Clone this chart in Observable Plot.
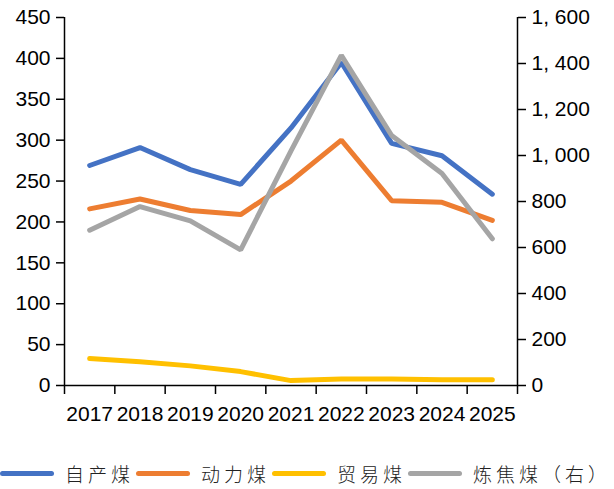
<!DOCTYPE html>
<html>
<head>
<meta charset="utf-8">
<script src="https://cdn.jsdelivr.net/npm/d3@7"></script>
<script src="https://cdn.jsdelivr.net/npm/@observablehq/plot@0.6"></script>
<style>
  html, body { margin: 0; padding: 0; background: #fff; }
  #chart svg { display: block; }
  .legend { display: flex; align-items: center; height: 30px; margin-top: 13px;
    font-family: "Noto Sans CJK SC", sans-serif; font-weight: 300; font-size: 19px; color: #222; white-space: nowrap; }
  .legend .sw { display: inline-block; width: 54px; height: 5px; border-radius: 3px; margin-right: 11px; }
  .legend .lab { letter-spacing: 4px; margin-right: 2px; }
</style>
</head>
<body>
<div id="chart"></div>
<script>
const years = [2017, 2018, 2019, 2020, 2021, 2022, 2023, 2024, 2025];
const ziChan = [269, 291, 264, 246, 315, 395, 296, 281, 234];     // 自产煤 (left)
const dongLi = [216, 228, 214, 209, 250, 300, 226, 224, 202];     // 动力煤 (left)
const maoYi  = [33, 29, 24, 17, 6, 8, 8, 7, 7];                   // 贸易煤 (left)
const lianJiao = [675, 778, 716, 590, 1020, 1435, 1087, 922, 638]; // 炼焦煤 (right)
const leftTicks = [0, 50, 100, 150, 200, 250, 300, 350, 400, 450];
const rightTicks = [0, 200, 400, 600, 800, 1000, 1200, 1400, 1600];
const seriesNames = ["自产煤", "动力煤", "贸易煤", "炼焦煤（右）"];
const colors = ["#4472C4", "#ED7D31", "#FFC000", "#A5A5A5"];

const leftMax = 450, rightMax = 1600;
const toLeft = v => v * leftMax / rightMax;

const rows = [];
years.forEach((yr, i) => {
  rows.push({year: yr, value: ziChan[i], s: seriesNames[0]});
  rows.push({year: yr, value: dongLi[i], s: seriesNames[1]});
  rows.push({year: yr, value: maoYi[i], s: seriesNames[2]});
  rows.push({year: yr, value: toLeft(lianJiao[i]), s: seriesNames[3]});
});

const xMin = years[0] - 0.5, xMax = years[years.length - 1] + 0.5;
const boundaries = years.map(y => y - 0.5).concat([xMax]);
const fmtRight = v => {
  const r = Math.round(v * rightMax / leftMax);
  return r >= 1000 ? Math.floor(r / 1000) + ", " + String(r % 1000).padStart(3, "0") : String(r);
};

const plot = Plot.plot({
  width: 614,
  height: 445,
  marginLeft: 64,
  marginRight: 97,
  marginTop: 17,
  marginBottom: 60,
  style: {fontFamily: "'Liberation Sans', Arial, sans-serif", fontSize: "21px", color: "#000", background: "#fff"},
  x: {domain: [xMin, xMax], axis: null, label: null},
  y: {domain: [0, leftMax], axis: null, label: null},
  color: {domain: seriesNames, range: colors},
  marks: [
    Plot.line(rows, {x: "year", y: "value", stroke: "s", z: "s", strokeWidth: 5, strokeLinejoin: "miter", strokeLinecap: "round"}),
    Plot.ruleX([xMin], {stroke: "#000", strokeWidth: 1.5}),
    Plot.ruleX([xMax], {stroke: "#000", strokeWidth: 1.5}),
    Plot.ruleY([0], {stroke: "#000", strokeWidth: 1.5}),
    Plot.axisY(leftTicks, {anchor: "left", label: null, tickSize: 8, tickPadding: 6, strokeWidth: 1.5, fontSize: 21}),
    Plot.axisY(rightTicks.map(toLeft), {anchor: "right", label: null, tickSize: 8, tickPadding: 6, strokeWidth: 1.5, tickFormat: fmtRight, fontSize: 21}),
    Plot.axisX(boundaries, {anchor: "bottom", label: null, tickSize: 9, tickFormat: () => "", strokeWidth: 1.5}),
    Plot.axisX(years, {anchor: "bottom", label: null, tickSize: 0, tickPadding: 21, tickFormat: d => String(d), fontSize: 21})
  ]
});
document.getElementById("chart").appendChild(plot);

const legend = document.createElement("div");
legend.className = "legend";
seriesNames.forEach((n, i) => {
  const sw = document.createElement("span");
  sw.className = "sw";
  sw.style.background = colors[i];
  const lab = document.createElement("span");
  lab.className = "lab";
  lab.textContent = n;
  legend.appendChild(sw);
  legend.appendChild(lab);
});
document.body.appendChild(legend);
</script>
</body>
</html>
